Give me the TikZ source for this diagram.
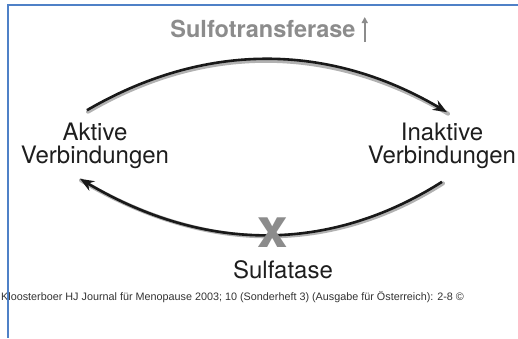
\documentclass[tikz,border=0pt]{standalone}
\usepackage{fontspec}
\setmainfont{TeX Gyre Heros}
\newfontfamily\citefont{Liberation Sans}
\usetikzlibrary{arrows.meta,calc}
\definecolor{frameblue}{HTML}{4F81C7}
\definecolor{enzgray}{HTML}{8C8C8C}
\definecolor{txtcol}{HTML}{1E1E1E}
\begin{document}
\begin{tikzpicture}[x=1pt,y=-1pt,
  compound/.style={font=\fontsize{24}{22.5}\selectfont, text=txtcol, align=center, inner sep=0pt},
  enzyme/.style={font=\bfseries\fontsize{23.5}{23.5}\selectfont, text=enzgray, inner sep=0pt},
  flow/.style={line width=2.6pt, draw=black!90, -{Stealth[length=14pt,width=11pt]}},
  flowshadow/.style={line width=4pt, draw=black!30, line cap=round},
]
\path[use as bounding box, fill=white] (0,0) rectangle (518,338);

% nodes
\node[compound] (aktiv) at (95,146) {Aktive\\Verbindungen};
\node[compound] (inaktiv) at (442,146) {Inaktive\\Verbindungen};
\node[enzyme] (sulfo) at (263,29) {Sulfotransferase};
\node[compound] (sulfatase) at (283,270) {Sulfatase};

% coordinates for arrow ends
\coordinate (t0) at ($(aktiv.north)+(-8,-13)$);
\coordinate (t1) at ($(inaktiv.north)+(5,-11)$);
\coordinate (b0) at ($(inaktiv.south)+(0,13)$);
\coordinate (b1) at ($(aktiv.south)+(-15,10)$);

% shadows
\draw[flowshadow, transform canvas={xshift=1pt,yshift=-1.5pt}] (t0) .. controls (204,42) and (328,42) .. (t1);
\draw[flowshadow, transform canvas={xshift=1pt,yshift=-1.5pt}] (b0) .. controls (330,253) and (205,253) .. (b1);

% arrows
\draw[flow] (t0) .. controls (204,42) and (328,42) .. (t1);
\draw[flow] (b0) .. controls (330,253) and (205,253) .. (b1);

% up arrow next to Sulfotransferase
\draw[enzgray, line width=1.6pt, -{Triangle[length=6pt,width=6pt]}]
  ($(sulfo.east)+(9,13)$) -- ($(sulfo.east)+(9,-12)$);

% blocking cross
\node[font=\bfseries\fontsize{55}{55}\selectfont, text=enzgray, inner sep=0pt] (block) at (273,233) {x};

% citation
\node[anchor=west, font=\citefont\fontsize{10.8}{10.8}\selectfont, text=black!80, inner sep=0pt] (cite) at (1,297)
  {Kloosterboer HJ Journal für Menopause 2003; 10 (Sonderheft 3) (Ausgabe für Österreich): 2-8 ©};

% frame
\draw[frameblue, line width=2pt] (518,5) -- (8,5) -- (8,338);
\end{tikzpicture}
\end{document}
